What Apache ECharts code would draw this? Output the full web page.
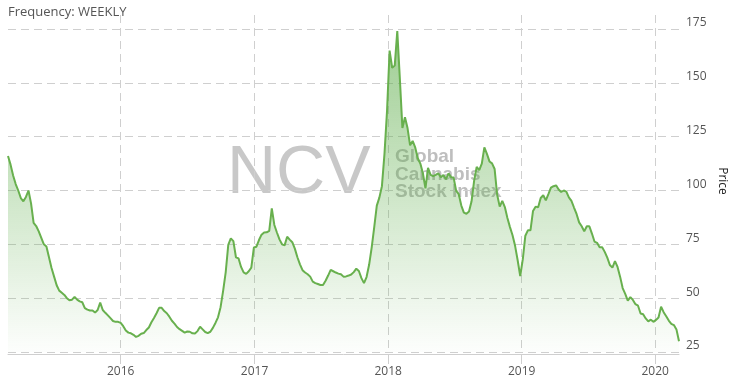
<!DOCTYPE html>
<html><head><meta charset="utf-8">
<script src="https://cdn.jsdelivr.net/npm/echarts@6/dist/echarts.min.js"></script>
<style>html,body{margin:0;padding:0;background:#fff}#c{width:734px;height:389px}</style>
</head><body><div id="c"></div>
<script>
// Weekly closing values, first week = 2015-02-27
const startYear = 2015, startMonth = 1, startDay = 27;
const values = [
116, 112, 107, 103, 100, 96.5, 95, 97, 100, 94,
85, 83.5, 81, 78, 75, 74, 69, 64, 60, 56,
53.5, 52.5, 51.5, 50, 49, 49.3, 50.6, 49.3, 48.5, 48.1,
45.4, 44.7, 44.3, 44.3, 43.3, 44.5, 47.9, 44.5, 43.2, 42,
40.7, 39.4, 39, 39, 38.5, 37, 35, 34, 33.7, 33,
32, 32.5, 33.5, 33.8, 35.2, 36.4, 38.8, 40.8, 43, 45.5,
45.5, 44, 43, 41.4, 39.5, 38.2, 36.6, 35.6, 34.8, 34,
34.5, 34.4, 33.7, 33.6, 34.7, 36.7, 35.5, 34.3, 33.8, 34.4,
36.2, 38.5, 41.1, 45.8, 53.4, 62, 74.7, 77.8, 76.5, 69,
68.5, 64.5, 62, 61.3, 62.5, 64.2, 73.5, 73.9, 77, 79.5,
80.5, 80.6, 81.3, 91.7, 84, 80.5, 77.3, 75, 74.5, 78.5,
77.2, 76, 73, 69, 65.7, 63, 61.9, 61.1, 60, 57.7,
57, 56.6, 56.1, 56.1, 58.1, 60.5, 63.1, 62.5, 61.9, 61.4,
61.1, 60, 60.1, 60.5, 61, 62.1, 63.7, 62.6, 59.3, 57,
59.8, 65.5, 73.5, 83, 93, 96.7, 102, 117, 137, 165,
157, 158, 174, 152, 129, 134, 129, 121, 123, 120,
115, 112.5, 108, 101, 110.5, 107.3, 106.7, 107.3, 108, 106.2,
107.2, 105.2, 108, 106.2, 106, 99.8, 98.3, 93, 89.7, 89.2,
90.2, 95, 104.5, 111, 109.5, 112.5, 120, 117, 113.5, 112.6,
110, 98, 92.5, 95.2, 92.3, 87.2, 83, 79.2, 74.3, 67.6,
60.3, 68, 79, 81.5, 81.5, 90.5, 92.5, 92.2, 96.5, 97.8,
95.4, 98.3, 101.3, 102, 102.4, 100.5, 99.3, 100, 99.5, 96.8,
95.2, 92.1, 89.1, 85.2, 83.4, 81, 83.4, 83.4, 80, 76.3,
75.7, 73.6, 73.6, 71.5, 68.8, 65.4, 64.2, 67.2, 64.5, 60,
54.7, 52, 48.9, 50.5, 49.2, 47.2, 46.5, 42.9, 42.5, 40.6,
39.2, 40, 39, 39.9, 41, 46, 43.5, 41.6, 39.6, 38.1,
37.5, 35.5, 30
];
const yTicks = [25, 50, 75, 100, 125, 150, 175];
const yearLabels = ['2016', '2017', '2018', '2019', '2020'];

const dates = values.map((v, i) => new Date(startYear, startMonth, startDay + 7 * i).getTime());
const seriesData = dates.map((d, i) => [d, values[i]]);

const chart = echarts.init(document.getElementById('c'), null, {renderer: 'canvas'});
const gridColor = '#cfcfcf';
chart.setOption({
  animation: false,
  grid: {left: 8, right: 55, top: 15, bottom: 37, containLabel: false},
  xAxis: {
    type: 'time',
    min: dates[0],
    max: dates[dates.length - 1],
    offset: 2,
    minInterval: 365 * 24 * 3600 * 1000,
    axisLine: {show: true, lineStyle: {color: gridColor, width: 1}},
    axisTick: {show: true, length: 10, lineStyle: {color: gridColor}},
    axisLabel: {
      color: '#555', fontSize: 12, margin: 12, fontFamily: 'Open Sans',
      showMinLabel: false, showMaxLabel: false,
      formatter: function (val) {
        const d = new Date(val);
        const y = String(d.getFullYear());
        if (d.getMonth() !== 0 || d.getDate() !== 1) return '';
        return yearLabels.indexOf(y) >= 0 ? y : '';
      }
    },
    splitLine: {show: true, showMinLine: false, showMaxLine: false, lineStyle: {color: gridColor, type: [8, 5]}}
  },
  yAxis: {
    type: 'value',
    position: 'right',
    min: 25,
    max: 181.5,
    interval: 25,
    axisLine: {show: false},
    axisTick: {show: false},
    axisLabel: {
      color: '#555', fontSize: 12, margin: 7, fontFamily: 'Open Sans',
      verticalAlign: 'bottom', showMaxLabel: false,
      formatter: function (v) { return yTicks.indexOf(v) >= 0 ? String(v) : ''; }
    },
    splitLine: {show: true, showMaxLine: false, lineStyle: {color: gridColor, type: [8, 5]}}
  },
  graphic: [
    {type: 'text', z: 0, x: 227, y: 174, style: {text: 'NCV', font: '68px "Liberation Sans"', fill: 'rgba(145,145,145,0.5)', verticalAlign: 'middle', align: 'left'}},
    {type: 'text', z: 0, x: 395, y: 157, style: {text: 'Global', font: 'bold 19px "Liberation Sans"', fill: 'rgba(125,125,125,0.5)', verticalAlign: 'middle'}},
    {type: 'text', z: 0, x: 395, y: 174.5, style: {text: 'Cannabis', font: 'bold 19px "Liberation Sans"', fill: 'rgba(125,125,125,0.5)', verticalAlign: 'middle'}},
    {type: 'text', z: 0, x: 395, y: 192, style: {text: 'Stock Index', font: 'bold 19px "Liberation Sans"', fill: 'rgba(125,125,125,0.5)', verticalAlign: 'middle'}},
    {type: 'text', z: 10, x: 8, y: 12, style: {text: 'Frequency: WEEKLY', font: '13px "Open Sans"', fill: '#555', verticalAlign: 'middle'}},
    {type: 'text', z: 10, x: 722, y: 181, rotation: -Math.PI / 2, style: {text: 'Price', font: '12px "Open Sans"', fill: '#222', verticalAlign: 'middle', align: 'center'}}
  ],
  series: [{
    type: 'line',
    data: seriesData,
    symbol: 'none',
    z: 3,
    lineStyle: {color: '#68b04e', width: 2},
    areaStyle: {
      color: new echarts.graphic.LinearGradient(0, 0, 0, 1, [
        {offset: 0, color: 'rgba(92,172,72,0.85)'},
        {offset: 1, color: 'rgba(92,172,72,0.02)'}
      ])
    }
  }]
});
</script>
</body></html>
